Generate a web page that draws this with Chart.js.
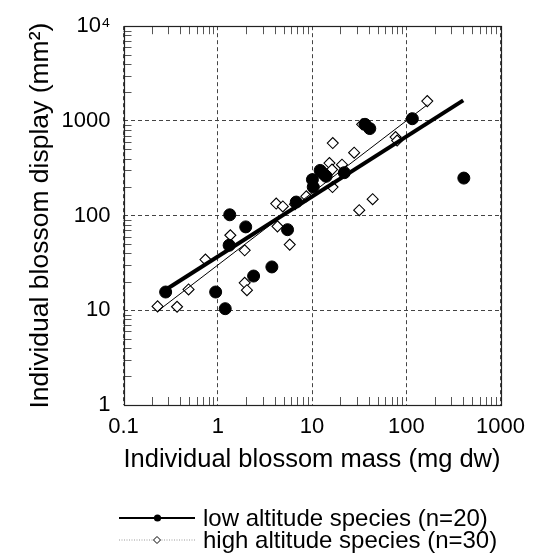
<!DOCTYPE html>
<html><head><meta charset="utf-8">
<script src="https://cdn.jsdelivr.net/npm/chart.js@4"></script>
<style>
html,body{margin:0;padding:0;background:#fff;}
#wrap{position:relative;width:534px;height:554px;overflow:hidden;}
canvas{position:absolute;left:0;top:0;}
.leg{position:absolute;left:119px;font-family:'Liberation Sans',Arial,Helvetica,sans-serif;font-size:24px;color:#000;white-space:nowrap;display:flex;align-items:center;height:24px;line-height:24px;}
.leg svg{margin-right:8px;flex:none;}
</style></head><body>
<div id="wrap">
<canvas id="c" width="534" height="554"></canvas>
<div class="leg" id="leg0" style="top:506px"><svg width="76" height="12"><line x1="0" y1="6" x2="76" y2="6" stroke="#000" stroke-width="2"/><circle cx="38.5" cy="6" r="3.6" fill="#000"/></svg><span id="legt0"></span></div>
<div class="leg" id="leg1" style="top:528px"><svg width="76" height="12"><line x1="0" y1="6" x2="76" y2="6" stroke="#999" stroke-width="1" stroke-dasharray="1,1.5"/><polygon points="34.5,6 38,2.5 41.5,6 38,9.5" fill="#fff" stroke="#000" stroke-width="1"/></svg><span id="legt1"></span></div>
</div>
<script>
// ---- data ----
const lowMass    = [0.28, 0.95, 1.2, 1.32, 1.34, 1.98, 2.4, 3.75, 5.5, 6.8, 10.1, 10.3, 12.2, 13.2, 14.1, 22, 36.5, 41, 116, 408];
const lowDisplay = [15.6, 15.6, 10.4, 48.6, 102, 76, 23, 28.7, 71, 139, 240, 200, 300, 277, 260, 284, 920, 830, 1055, 249];

const highMass    = [0.23, 0.37, 0.49, 0.74, 1.36, 1.93, 1.93, 2.04, 4.17, 4.3, 4.9, 5.8, 8.7, 15.3, 16.3, 16.6, 16.5, 20.8, 28, 31.7, 34, 44, 77, 80, 167, 6.6, 10.4, 13.0, 38, 113];
const highDisplay = [11, 10.9, 16.6, 34.3, 62, 43, 19.5, 16.3, 134, 77, 125, 49.4, 160, 359, 306, 583, 200, 345, 462, 114, 920, 149, 675, 620, 1618, 132, 205, 270, 860, 1050];

const lowFitMass = [0.28, 402];
const lowFitDisplay = [16.5, 1645];
const highFitMass = [0.23, 167];
const highFitDisplay = [9.8, 1480];

const xTickValues = [0.1, 1, 10, 100, 1000];
const xTickLabels = ['0.1', '1', '10', '100', '1000'];
const yTickValues = [1, 10, 100, 1000, 10000];
const yTickLabels = ['1', '10', '100', '1000', '10\u2074'];

const xTitle = 'Individual blossom mass (mg dw)';
const yTitle = 'Individual blossom display (mm\u00B2)';
const seriesNames = ['low altitude species (n=20)', 'high altitude species (n=30)'];

// ---- chart ----
const FONT = "'Liberation Sans', Arial, Helvetica, sans-serif";
document.getElementById('legt0').textContent = seriesNames[0];
document.getElementById('legt1').textContent = seriesNames[1];

const pts = (xs, ys) => xs.map((x, i) => ({x: x, y: ys[i]}));
const lbl = (vals, labs, v) => {
  for (let i = 0; i < vals.length; i++) if (Math.abs(Math.log10(vals[i]) - Math.log10(v)) < 1e-6) return labs[i];
  return '';
};

const framePlugin = {
  id: 'framePlugin',
  beforeDatasetsDraw(chart) {
    const {ctx, chartArea: a, scales: {x, y}} = chart;
    ctx.save();
    ctx.strokeStyle = '#555';
    ctx.lineWidth = 1;
    ctx.beginPath();
    for (let d = 0; d < xTickValues.length - 1; d++) {
      for (let m = 2; m <= 9; m++) {
        const px = Math.round(x.getPixelForValue(xTickValues[d] * m)) + 0.5;
        ctx.moveTo(px, a.bottom); ctx.lineTo(px, a.bottom - 8);
        ctx.moveTo(px, a.top); ctx.lineTo(px, a.top + 8);
      }
    }
    for (let d = 0; d < yTickValues.length - 1; d++) {
      for (let m = 2; m <= 9; m++) {
        const py = Math.round(y.getPixelForValue(yTickValues[d] * m)) + 0.5;
        ctx.moveTo(a.left, py); ctx.lineTo(a.left + 8, py);
      }
    }
    ctx.stroke();
    ctx.strokeStyle = '#222';
    ctx.lineWidth = 1.2;
    ctx.strokeRect(Math.round(a.left) + 0.5, Math.round(a.top) + 0.5, Math.round(a.right - a.left), Math.round(a.bottom - a.top));
    ctx.restore();
  }
};

new Chart(document.getElementById('c'), {
  type: 'scatter',
  data: {
    datasets: [
      {
        label: seriesNames[0],
        data: pts(lowMass, lowDisplay),
        pointStyle: 'circle', pointRadius: 6, pointBackgroundColor: '#000', pointBorderColor: '#000', pointBorderWidth: 1,
        showLine: false, order: 1
      },
      {
        label: 'low fit',
        data: pts(lowFitMass, lowFitDisplay),
        showLine: true, pointRadius: 0, borderColor: '#000', borderWidth: 4, order: 2
      },
      {
        label: 'high fit',
        data: pts(highFitMass, highFitDisplay),
        showLine: true, pointRadius: 0, borderColor: '#000', borderWidth: 1, order: 3
      },
      {
        label: seriesNames[1],
        data: pts(highMass, highDisplay),
        pointStyle: 'rectRot', pointRadius: 5.5, pointBackgroundColor: '#fff', pointBorderColor: '#000', pointBorderWidth: 1.1,
        showLine: false, order: 4
      }
    ]
  },
  options: {
    responsive: false,
    animation: false,
    devicePixelRatio: 1,
    layout: {padding: {left: 0, right: 32, top: 26, bottom: 0}},
    plugins: {legend: {display: false}, tooltip: {enabled: false}},
    scales: {
      x: {
        type: 'logarithmic', position: 'bottom', min: 0.1, max: 1000,
        afterBuildTicks: s => { s.ticks = xTickValues.map(v => ({value: v})); },
        afterFit: s => { s.height = 149; },
        ticks: {callback: v => lbl(xTickValues, xTickLabels, v), font: {family: FONT, size: 22}, color: '#000', padding: 9, maxRotation: 0, autoSkip: false},
        grid: {color: '#444', lineWidth: 1, drawTicks: false},
        border: {display: false, dash: [4, 3]},
        title: {display: true, text: xTitle, font: {family: FONT, size: 26.3}, color: '#000', padding: {top: 0, bottom: 78}}
      },
      y: {
        type: 'logarithmic', position: 'left', min: 1, max: 10000,
        afterBuildTicks: s => { s.ticks = yTickValues.map(v => ({value: v})); },
        afterFit: s => { s.width = 123.5; },
        ticks: {callback: v => lbl(yTickValues, yTickLabels, v), font: {family: FONT, size: 22}, color: '#000', padding: 13, autoSkip: false},
        grid: {color: '#444', lineWidth: 1, drawTicks: false},
        border: {display: false, dash: [4, 3]},
        title: {display: true, text: yTitle, font: {family: FONT, size: 26.5}, color: '#000', padding: {top: 25, bottom: 0}}
      }
    }
  },
  plugins: [framePlugin]
});
</script>
</body></html>
